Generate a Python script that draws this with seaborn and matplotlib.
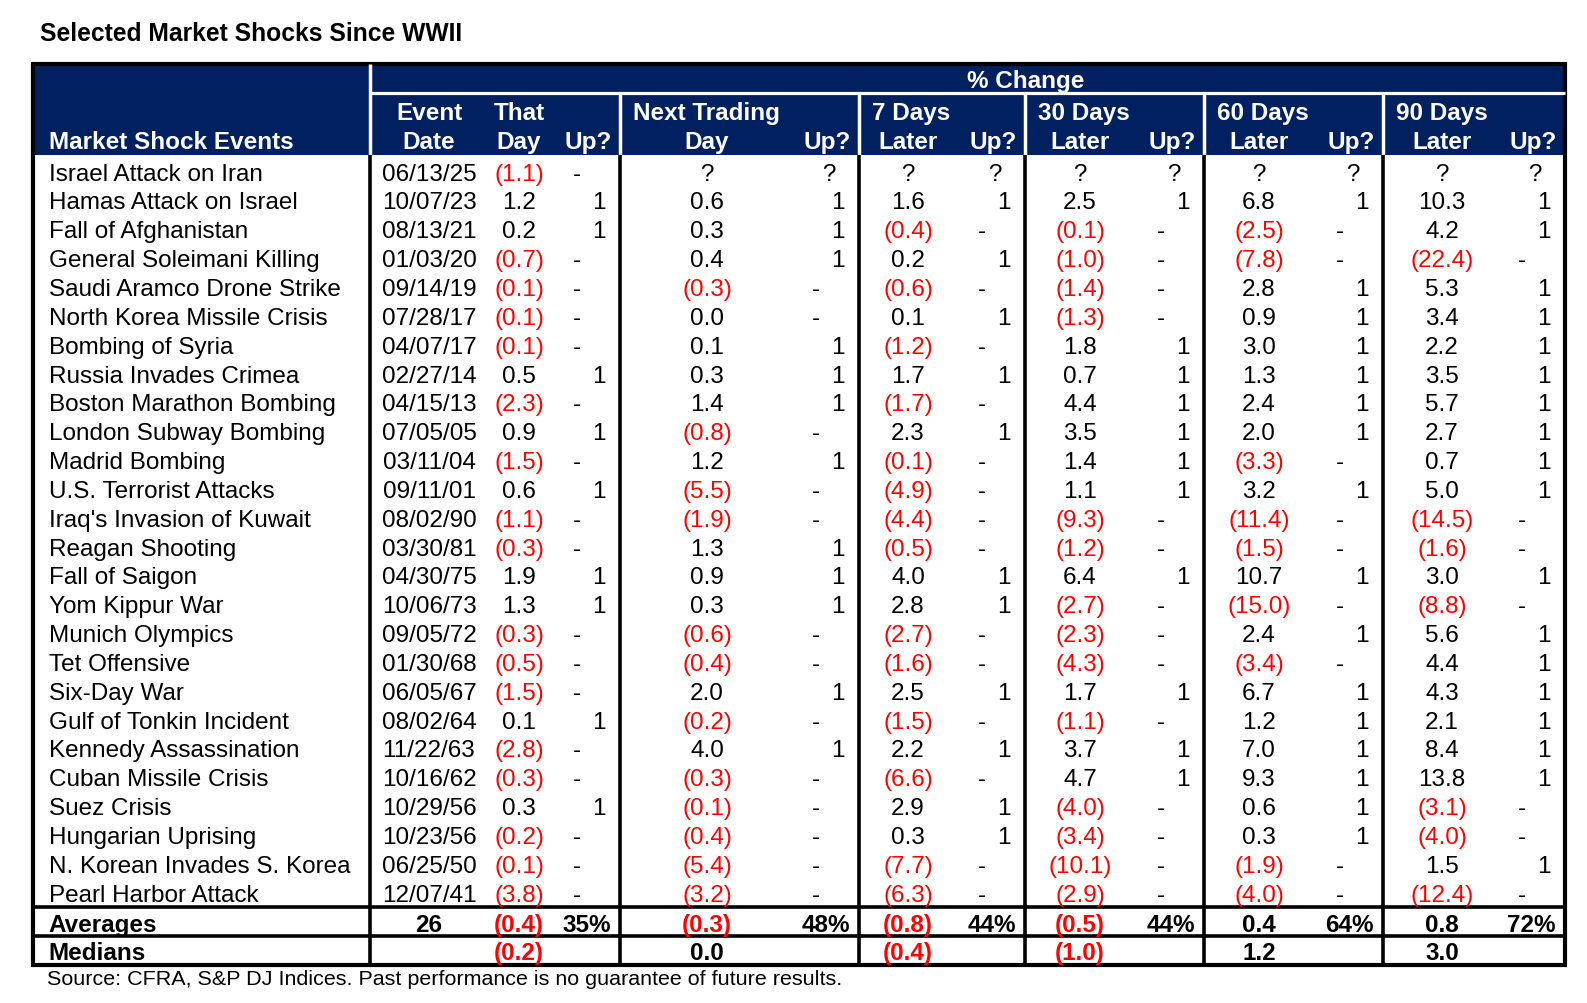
import matplotlib
matplotlib.use("Agg")
import matplotlib.pyplot as plt
from matplotlib.patches import Rectangle
import seaborn as sns

# ---------------- data ----------------
events = ["Israel Attack on Iran", "Hamas Attack on Israel", "Fall of Afghanistan",
          "General Soleimani Killing", "Saudi Aramco Drone Strike", "North Korea Missile Crisis",
          "Bombing of Syria", "Russia Invades Crimea", "Boston Marathon Bombing",
          "London Subway Bombing", "Madrid Bombing", "U.S. Terrorist Attacks",
          "Iraq's Invasion of Kuwait", "Reagan Shooting", "Fall of Saigon", "Yom Kippur War",
          "Munich Olympics", "Tet Offensive", "Six-Day War", "Gulf of Tonkin Incident",
          "Kennedy Assassination", "Cuban Missile Crisis", "Suez Crisis", "Hungarian Uprising",
          "N. Korean Invades S. Korea", "Pearl Harbor Attack"]
dates = ["06/13/25", "10/07/23", "08/13/21", "01/03/20", "09/14/19", "07/28/17", "04/07/17",
         "02/27/14", "04/15/13", "07/05/05", "03/11/04", "09/11/01", "08/02/90", "03/30/81",
         "04/30/75", "10/06/73", "09/05/72", "01/30/68", "06/05/67", "08/02/64", "11/22/63",
         "10/16/62", "10/29/56", "10/23/56", "06/25/50", "12/07/41"]
that_day = [-1.1, 1.2, 0.2, -0.7, -0.1, -0.1, -0.1, 0.5, -2.3, 0.9, -1.5, 0.6, -1.1, -0.3,
            1.9, 1.3, -0.3, -0.5, -1.5, 0.1, -2.8, -0.3, 0.3, -0.2, -0.1, -3.8]
that_up = [0, 1, 1, 0, 0, 0, 0, 1, 0, 1, 0, 1, 0, 0, 1, 1, 0, 0, 0, 1, 0, 0, 1, 0, 0, 0]
next_day = [None, 0.6, 0.3, 0.4, -0.3, 0.0, 0.1, 0.3, 1.4, -0.8, 1.2, -5.5, -1.9, 1.3, 0.9,
            0.3, -0.6, -0.4, 2.0, -0.2, 4.0, -0.3, -0.1, -0.4, -5.4, -3.2]
next_up = [None, 1, 1, 1, 0, 0, 1, 1, 1, 0, 1, 0, 0, 1, 1, 1, 0, 0, 1, 0, 1, 0, 0, 0, 0, 0]
days7 = [None, 1.6, -0.4, 0.2, -0.6, 0.1, -1.2, 1.7, -1.7, 2.3, -0.1, -4.9, -4.4, -0.5, 4.0,
         2.8, -2.7, -1.6, 2.5, -1.5, 2.2, -6.6, 2.9, 0.3, -7.7, -6.3]
up7 = [None, 1, 0, 1, 0, 1, 0, 1, 0, 1, 0, 0, 0, 0, 1, 1, 0, 0, 1, 0, 1, 0, 1, 1, 0, 0]
days30 = [None, 2.5, -0.1, -1.0, -1.4, -1.3, 1.8, 0.7, 4.4, 3.5, 1.4, 1.1, -9.3, -1.2, 6.4,
          -2.7, -2.3, -4.3, 1.7, -1.1, 3.7, 4.7, -4.0, -3.4, -10.1, -2.9]
up30 = [None, 1, 0, 0, 0, 0, 1, 1, 1, 1, 1, 1, 0, 0, 1, 0, 0, 0, 1, 0, 1, 1, 0, 0, 0, 0]
days60 = [None, 6.8, -2.5, -7.8, 2.8, 0.9, 3.0, 1.3, 2.4, 2.0, -3.3, 3.2, -11.4, -1.5, 10.7,
          -15.0, 2.4, -3.4, 6.7, 1.2, 7.0, 9.3, 0.6, 0.3, -1.9, -4.0]
up60 = [None, 1, 0, 0, 1, 1, 1, 1, 1, 1, 0, 1, 0, 0, 1, 0, 1, 0, 1, 1, 1, 1, 1, 1, 0, 0]
days90 = [None, 10.3, 4.2, -22.4, 5.3, 3.4, 2.2, 3.5, 5.7, 2.7, 0.7, 5.0, -14.5, -1.6, 3.0,
          -8.8, 5.6, 4.4, 4.3, 2.1, 8.4, 13.8, -3.1, -4.0, 1.5, -12.4]
up90 = [None, 1, 1, 0, 1, 1, 1, 1, 1, 1, 1, 1, 0, 0, 1, 0, 1, 1, 1, 1, 1, 1, 0, 0, 1, 0]

avg_days = "26"
avg_change = [-0.4, -0.3, -0.8, -0.5, 0.4, 0.8]
avg_up_pct = [35, 48, 44, 44, 64, 72]
median_change = [-0.2, 0.0, -0.4, -1.0, 1.2, 3.0]

group_titles = ["That", "Next Trading", "7 Days", "30 Days", "60 Days", "90 Days"]
group_sub = ["Day", "Day", "Later", "Later", "Later", "Later"]
title = "Selected Market Shocks Since WWII"
source = "Source: CFRA, S&P DJ Indices. Past performance is no guarantee of future results."

# ---------------- style ----------------
sns.set_theme(style="white")
plt.rcParams['font.family'] = ['Liberation Sans', 'DejaVu Sans']

NAVY = "#002060"
RED = "#FF0000"
FS = 17.5

fig = plt.figure(figsize=(15.87, 10.04), dpi=100)
ax = fig.add_axes([0, 0, 1, 1])
ax.set_xlim(0, 1587)
ax.set_ylim(1004, 0)
ax.axis('off')

# layout
L, R = 33, 1565
TOP, HMID, HBOT = 64.5, 94, 156
AVG_TOP, MED_TOP, BOT = 908, 937, 966
col_lines = [370, 620, 859, 1025, 1204, 1383]
right_lines = col_lines[1:] + [R]
val_center = [519, 707, 908, 1080, 1259, 1442]
date_center = 429
name_x = 49
row_h = 28.84


def baseline(i):
    return HBOT + row_h * (i + 1) - 4.2


def fmt(v):
    if v is None:
        return "?", "black"
    if v < 0:
        return f"({abs(v):.1f})", RED
    return f"{v:.1f}", "black"


def txt(x, y, s, ha="center", color="black", bold=False, size=FS):
    ax.text(x, y, s, ha=ha, va="baseline", fontsize=size, color=color,
            fontweight="bold" if bold else "normal")


# header background
ax.add_patch(Rectangle((L, TOP), R - L, HBOT - TOP, facecolor=NAVY, edgecolor="none"))

# header white separators
ax.plot([col_lines[0], col_lines[0]], [TOP, HBOT], color="white", lw=2.5, solid_capstyle="butt")
ax.plot([col_lines[0], R], [HMID, HMID], color="white", lw=2.3, solid_capstyle="butt")
for x in col_lines[1:]:
    ax.plot([x, x], [HMID, HBOT], color="white", lw=2.5, solid_capstyle="butt")

# body black separators
for x in col_lines:
    ax.plot([x, x], [HBOT, BOT], color="black", lw=2.6, solid_capstyle="butt")
for y in (AVG_TOP, MED_TOP):
    ax.plot([L, R], [y, y], color="black", lw=2.6, solid_capstyle="butt")

# outer border
ax.add_patch(Rectangle((L, TOP), R - L, BOT - TOP, facecolor="none", edgecolor="black", lw=3.0))

# title / source
txt(40, 41, title, ha="left", bold=True, size=17.7)
txt(47, 985, source, ha="left", size=15.45)

# header text
W = "white"
txt(1026, 88, "% Change", color=W, bold=True)
txt(name_x, 149, "Market Shock Events", ha="left", color=W, bold=True)
txt(date_center, 120, "Event", color=W, bold=True)
txt(date_center, 149, "Date", color=W, bold=True)
for k in range(6):
    if k == 0:
        txt(val_center[0], 120, group_titles[0], color=W, bold=True)
    else:
        txt(col_lines[k] + 13, 120, group_titles[k], ha="left", color=W, bold=True)
    txt(val_center[k], 149, group_sub[k], color=W, bold=True)
    txt(right_lines[k] - 8, 149, "Up?", ha="right", color=W, bold=True)

# body rows
changes = [that_day, next_day, days7, days30, days60, days90]
ups = [that_up, next_up, up7, up30, up60, up90]
for i, name in enumerate(events):
    y = baseline(i)
    txt(name_x, y, name, ha="left")
    txt(date_center, y, dates[i])
    for k in range(6):
        s, c = fmt(changes[k][i])
        txt(val_center[k], y, s, color=c)
        u = ups[k][i]
        rl = right_lines[k]
        if u is None:
            txt(rl - 30, y, "?")
        elif u == 1:
            txt(rl - 14, y, "1", ha="right")
        else:
            txt(rl - 43, y, "-")

# averages / medians
ya = AVG_TOP + 24
ym = MED_TOP + 23.5
txt(name_x - 1, ya, "Averages", ha="left", bold=True)
txt(date_center, ya, avg_days, bold=True)
txt(name_x - 1, ym, "Medians", ha="left", bold=True)
for k in range(6):
    s, c = fmt(avg_change[k])
    txt(val_center[k], ya, s, color=c, bold=True)
    txt(right_lines[k] - 9, ya, f"{avg_up_pct[k]}%", ha="right", bold=True)
    s, c = fmt(median_change[k])
    txt(val_center[k], ym, s, color=c, bold=True)

fig.savefig("out.png", dpi=100, facecolor="white")
